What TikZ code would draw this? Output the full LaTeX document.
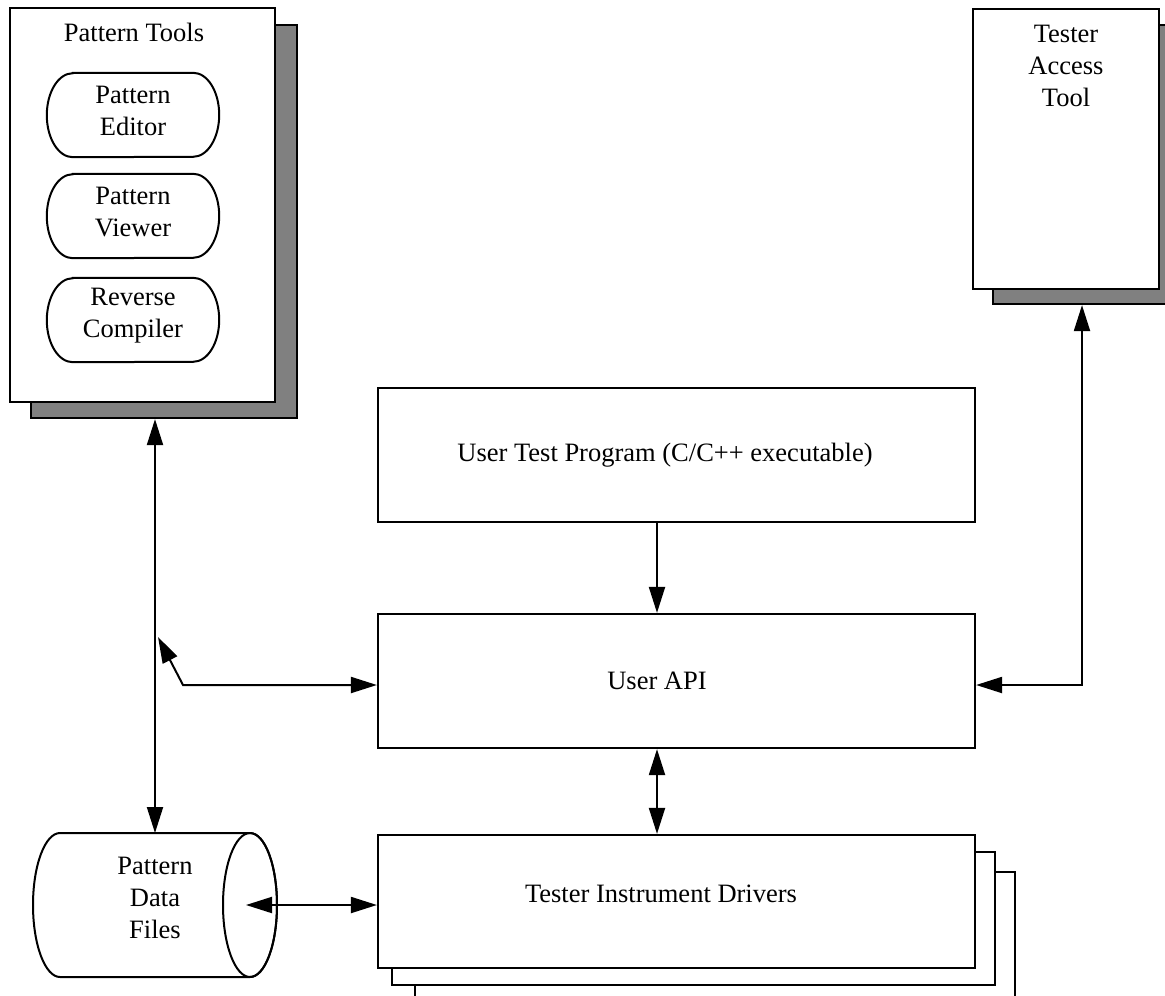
\documentclass[tikz,border=0pt]{standalone}
\usepackage{fontspec}
\setmainfont{Liberation Serif}
\usetikzlibrary{arrows.meta}
\definecolor{shade}{HTML}{808080}
\begin{document}
\begin{tikzpicture}[x=1pt,y=-1pt,
  font=\fontsize{26.5}{32}\selectfont,
  frame/.style={draw,line width=2.2pt,fill=white,inner sep=0pt},
  shadowbox/.style={draw,line width=2.2pt,fill=shade,inner sep=0pt},
  ovalbox/.style={inner sep=0pt,minimum width=172pt,minimum height=84pt,align=center},
  ovalline/.style={draw,line width=2pt,fill=white},
  lbl/.style={align=center,inner sep=0pt},
  conn/.style={line width=2pt},
  tip/.style={-{Triangle[length=26pt,width=16pt]}},
  tips/.style={{Triangle[length=26pt,width=16pt]}-{Triangle[length=26pt,width=16pt]}}]
\useasboundingbox (0,0) rectangle (1165,996);

% Pattern Tools
\node[shadowbox,minimum width=266pt,minimum height=393pt] (ptS) at (164,221.5) {};
\node[frame,minimum width=265pt,minimum height=394pt] (pt) at (142.5,205) {};
\node[lbl] (ptT) at (134,32) {Pattern Tools};
\foreach \n/\y in {ped/115,pvw/216,rcm/320}{
  \node[ovalbox] (\n) at (133,\y) {};
  \draw[ovalline] ([xshift=26pt]\n.north west) -- ([xshift=-26pt]\n.north east)
    arc[start angle=90,end angle=-90,x radius=26pt,y radius=42pt]
    -- ([xshift=26pt]\n.south west)
    arc[start angle=270,end angle=90,x radius=26pt,y radius=42pt] -- cycle;
}
\node[lbl] (pedT) at (133,111) {Pattern\\Editor};
\node[lbl] (pvwT) at (133,212) {Pattern\\Viewer};
\node[lbl] (rcmT) at (133,316) {Reverse\\Compiler};

% Tester Access Tool
\node[shadowbox,minimum width=182pt,minimum height=279pt] (tatS) at (1084,164.5) {};
\node[frame,minimum width=186pt,minimum height=280pt] (tat) at (1066,149) {};
\node[lbl] (tatT) at (1066,66) {Tester\\Access\\Tool};

% User Test Program
\node[frame,minimum width=597pt,minimum height=134pt] (utp) at (676.5,455) {};
\node[lbl] (utpT) at (665,455) {User Test Program (C/C++ executable)};

% User API
\node[frame,minimum width=597pt,minimum height=134pt] (api) at (676.5,681) {};
\node[lbl] (apiT) at (657,681) {User API};

% Tester Instrument Drivers (stacked)
\node[frame,minimum width=600pt,minimum height=140pt] (tid3) at (715,942) {};
\node[frame,minimum width=603pt,minimum height=133pt] (tid2) at (693.5,918.5) {};
\node[frame,minimum width=597pt,minimum height=133pt] (tid) at (676.5,901.5) {};
\node[lbl] (tidT) at (661,894) {Tester Instrument Drivers};

% Pattern Data Files cylinder
\draw[line width=2pt,fill=white] (60,833) arc[start angle=90,end angle=270,x radius=27pt,y radius=72pt]
  -- (250,977) arc[start angle=270,end angle=450,x radius=27pt,y radius=72pt] -- cycle;
\draw[line width=2pt] (250,905) ellipse[x radius=27pt,y radius=72pt];
\node[lbl] (pdf) at (155,898) {Pattern\\Data\\Files};
\coordinate (cylTop) at (155,833);
\coordinate (cylCap) at (246,905);

% connectors
\draw[conn,tips] (ptS.south -| cylTop) -- (cylTop);
\coordinate (apiBend) at (183,685);
\coordinate (apiEnd) at (158,637);
\draw[conn,tips] (apiEnd) -- (apiBend) -- (apiBend -| api.west);
\draw[conn,tip] (utp.south -| apiT) -- (api.north -| apiT);
\draw[conn,tips] (api.south -| apiT) -- (tid.north -| apiT);
\draw[conn,tips] (cylCap) -- (cylCap -| tid.west);
\coordinate (tatBend) at (1082,685);
\draw[conn,tips] (tatBend -| api.east) -- (tatBend) -- (tatBend |- tatS.south);
\end{tikzpicture}
\end{document}
